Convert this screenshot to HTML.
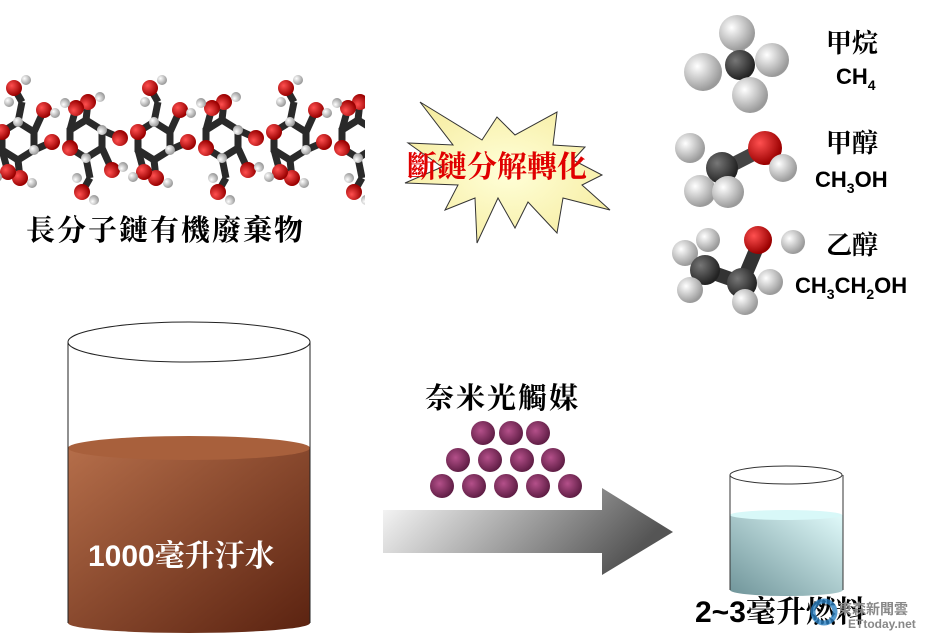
<!DOCTYPE html>
<html><head><meta charset="utf-8"><style>
html,body{margin:0;padding:0;background:#fff;width:931px;height:641px;overflow:hidden}
text{font-family:"Liberation Serif","Noto Serif CJK SC","Noto Sans CJK TC",serif}
.b{font-family:"Liberation Sans","Noto Sans CJK TC",sans-serif;font-weight:bold}
.k{font-weight:bold}
</style></head><body>
<svg width="931" height="641" viewBox="0 0 931 641" xmlns="http://www.w3.org/2000/svg">
<defs>
<radialGradient id="red" cx="35%" cy="35%" r="65%"><stop offset="0" stop-color="#ff5050"/><stop offset="1" stop-color="#9a0000"/></radialGradient>
<radialGradient id="wh" cx="35%" cy="35%" r="65%"><stop offset="0" stop-color="#ffffff"/><stop offset="1" stop-color="#9a9a9a"/></radialGradient>
<radialGradient id="dk" cx="35%" cy="35%" r="65%"><stop offset="0" stop-color="#777"/><stop offset="1" stop-color="#222"/></radialGradient>
<radialGradient id="pur" cx="40%" cy="40%" r="65%"><stop offset="0" stop-color="#b4508a"/><stop offset="1" stop-color="#5a1a40"/></radialGradient>
<radialGradient id="star" cx="50%" cy="50%" r="60%"><stop offset="0" stop-color="#ffffd8"/><stop offset="1" stop-color="#f6eca0"/></radialGradient>
<linearGradient id="arrow" x1="0" y1="0" x2="1" y2="0.3"><stop offset="0" stop-color="#fff"/><stop offset="1" stop-color="#555"/></linearGradient>
<linearGradient id="brown" x1="0" y1="0" x2="1" y2="1"><stop offset="0" stop-color="#b56e4a"/><stop offset="1" stop-color="#5a2210"/></linearGradient>
<linearGradient id="cyan" x1="1" y1="0" x2="0" y2="1"><stop offset="0" stop-color="#e0fafa"/><stop offset="1" stop-color="#6f9499"/></linearGradient>
<g id="unit">
 <g stroke="#2a2a2a" stroke-width="7" fill="none">
  <polygon points="-16,-8 0,-18 16,-8 16,10 0,20 -16,10"/>
  <line x1="16" y1="10" x2="34" y2="2"/>
  <line x1="0" y1="-18" x2="4" y2="-38"/>
  <line x1="4" y1="-38" x2="-4" y2="-52"/>
  <line x1="16" y1="-8" x2="26" y2="-30"/>
  <line x1="0" y1="20" x2="2" y2="38"/>
  <line x1="-16" y1="10" x2="-10" y2="32"/>
 </g>
 <circle cx="-16" cy="-8" r="8" fill="url(#red)"/>
 <circle cx="34" cy="2" r="8" fill="url(#red)"/>
 <circle cx="-4" cy="-52" r="8" fill="url(#red)"/>
 <circle cx="26" cy="-30" r="8" fill="url(#red)"/>
 <circle cx="2" cy="38" r="8" fill="url(#red)"/>
 <circle cx="-10" cy="32" r="8" fill="url(#red)"/>
 <circle cx="0" cy="-18" r="5" fill="url(#wh)"/>
 <circle cx="16" cy="10" r="5" fill="url(#wh)"/>
 <circle cx="8" cy="-60" r="5" fill="url(#wh)"/>
 <circle cx="37" cy="-27" r="5" fill="url(#wh)"/>
 <circle cx="14" cy="43" r="5" fill="url(#wh)"/>
 <circle cx="-21" cy="37" r="5" fill="url(#wh)"/>
 <circle cx="-9" cy="-38" r="5" fill="url(#wh)"/>
</g>
</defs>

<g transform="translate(18,140)"><use href="#unit"/></g>
<g transform="translate(86,140) scale(1,-1)"><use href="#unit"/></g>
<g transform="translate(154,140)"><use href="#unit"/></g>
<g transform="translate(222,140) scale(1,-1)"><use href="#unit"/></g>
<g transform="translate(290,140)"><use href="#unit"/></g>
<g transform="translate(358,140) scale(1,-1)"><use href="#unit"/></g>
<rect x="365" y="60" width="40" height="150" fill="#fff"/>
<text x="26" y="240" font-size="29" letter-spacing="2" class="k">長分子鏈有機廢棄物</text>

<polygon fill="url(#star)" stroke="#333" stroke-width="1" points="420,102 482,140 497,117 515,135 557,112 553,145 585,147 573,160 602,175 582,185 610,210 563,198 557,233 528,202 515,228 498,198 477,243 475,198 445,210 458,185 405,183 442,167 408,143 453,145"/>
<text x="407" y="177" font-size="30" fill="#e00000" font-weight="bold">斷鏈分解轉化</text>

<g>
 <line x1="740" y1="65" x2="738" y2="35" stroke="#bbb" stroke-width="12"/>
 <circle cx="737" cy="33" r="18" fill="url(#wh)"/>
 <circle cx="740" cy="65" r="15" fill="url(#dk)"/>
 <circle cx="772" cy="60" r="17" fill="url(#wh)"/>
 <circle cx="703" cy="72" r="19" fill="url(#wh)"/>
 <circle cx="750" cy="95" r="18" fill="url(#wh)"/>
</g>
<text x="826" y="52" font-size="26" class="k">甲烷</text>
<text x="836" y="84" font-size="22" class="b">CH<tspan font-size="14" dy="6">4</tspan></text>
<g>
 <line x1="722" y1="170" x2="765" y2="148" stroke="#444" stroke-width="14"/>
 <circle cx="690" cy="148" r="15" fill="url(#wh)"/>
 <circle cx="722" cy="168" r="16" fill="url(#dk)"/>
 <circle cx="765" cy="148" r="17" fill="url(#red)"/>
 <circle cx="783" cy="168" r="14" fill="url(#wh)"/>
 <circle cx="700" cy="191" r="16" fill="url(#wh)"/>
 <circle cx="728" cy="192" r="16" fill="url(#wh)"/>
</g>
<text x="826" y="152" font-size="26" class="k">甲醇</text>
<text x="815" y="187" font-size="22" class="b">CH<tspan font-size="14" dy="6">3</tspan><tspan dy="-6">OH</tspan></text>
<g>
 <polyline points="705,270 742,283 758,245" fill="none" stroke="#333" stroke-width="14"/>
 <circle cx="708" cy="240" r="12" fill="url(#wh)"/>
 <circle cx="685" cy="253" r="13" fill="url(#wh)"/>
 <circle cx="705" cy="270" r="15" fill="url(#dk)"/>
 <circle cx="690" cy="290" r="13" fill="url(#wh)"/>
 <circle cx="742" cy="283" r="15" fill="url(#dk)"/>
 <circle cx="758" cy="240" r="14" fill="url(#red)"/>
 <circle cx="793" cy="242" r="12" fill="url(#wh)"/>
 <circle cx="770" cy="282" r="13" fill="url(#wh)"/>
 <circle cx="745" cy="302" r="13" fill="url(#wh)"/>
</g>
<text x="826" y="254" font-size="26" class="k">乙醇</text>
<text x="795" y="293" font-size="22" class="b">CH<tspan font-size="14" dy="6">3</tspan><tspan dy="-6">CH</tspan><tspan font-size="14" dy="6">2</tspan><tspan dy="-6">OH</tspan></text>

<path d="M68,448 L68,623 A121,10 0 0 0 310,623 L310,448 Z" fill="url(#brown)"/>
<ellipse cx="189" cy="448" rx="121" ry="12" fill="#a8603c"/>
<line x1="68" y1="342" x2="68" y2="623" stroke="#222" stroke-width="1"/>
<line x1="310" y1="342" x2="310" y2="623" stroke="#222" stroke-width="1"/>
<ellipse cx="189" cy="342" rx="121" ry="20" fill="none" stroke="#222" stroke-width="1"/>
<text x="88" y="566" font-size="30" fill="#fff" class="b">1000<tspan font-family="Liberation Serif,'Noto Serif CJK SC',serif">毫升汙水</tspan></text>

<text x="425" y="408" font-size="29" letter-spacing="2" class="k">奈米光觸媒</text>
<g fill="url(#pur)">
<circle cx="483" cy="433" r="12"/><circle cx="511" cy="433" r="12"/><circle cx="538" cy="433" r="12"/>
<circle cx="458" cy="460" r="12"/><circle cx="490" cy="460" r="12"/><circle cx="522" cy="460" r="12"/><circle cx="553" cy="460" r="12"/>
<circle cx="442" cy="486" r="12"/><circle cx="474" cy="486" r="12"/><circle cx="506" cy="486" r="12"/><circle cx="538" cy="486" r="12"/><circle cx="570" cy="486" r="12"/>
</g>
<polygon points="383,510 602,510 602,488 673,532 602,575 602,553 383,553" fill="url(#arrow)"/>

<path d="M730,515 L730,590 A56,6 0 0 0 843,590 L843,515 Z" fill="url(#cyan)"/>
<ellipse cx="786" cy="515" rx="56" ry="5" fill="#d8f8f8"/>
<line x1="730" y1="475" x2="730" y2="590" stroke="#333" stroke-width="1"/>
<line x1="843" y1="475" x2="843" y2="590" stroke="#333" stroke-width="1"/>
<ellipse cx="786" cy="475" rx="56" ry="9" fill="none" stroke="#333" stroke-width="1"/>
<text x="695" y="622" font-size="30" class="b">2~3<tspan font-family="Liberation Serif,'Noto Serif CJK SC',serif">毫升燃料</tspan></text>
<circle cx="824" cy="612" r="11" fill="none" stroke="#2a7fc0" stroke-width="5" opacity="0.8"/>
<text x="838" y="614" font-size="14" fill="#888" class="b" font-weight="normal">東森新聞雲</text>
<text x="848" y="628" font-size="12" fill="#888" class="b">ETtoday.net</text>
</svg>
</body></html>
